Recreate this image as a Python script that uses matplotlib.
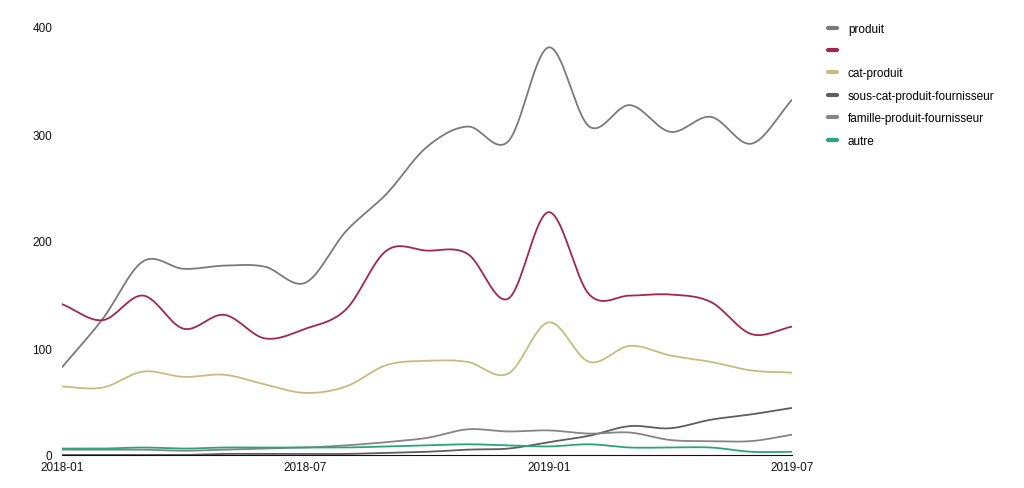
import numpy as np
import matplotlib
matplotlib.use('Agg')
import matplotlib.pyplot as plt
from matplotlib.lines import Line2D

plt.rcParams['font.family'] = ['Liberation Sans', 'DejaVu Sans']

MONTHS = ['2018-01', '2018-02', '2018-03', '2018-04', '2018-05', '2018-06',
          '2018-07', '2018-08', '2018-09', '2018-10', '2018-11', '2018-12',
          '2019-01', '2019-02', '2019-03', '2019-04', '2019-05', '2019-06',
          '2019-07']
TICK_LABELS = ['2018-01', '2018-07', '2019-01', '2019-07']
Y_TICKS = [0, 100, 200, 300, 400]

# series values
produit = [82, 127, 181, 174, 177, 176, 161, 209, 244, 288, 307, 293,
           381, 307, 327, 302, 316, 291, 332]
sans_nom = [141, 126, 149, 118, 131, 109, 118, 136, 191, 191, 188, 146,
            227, 150, 149, 150, 143, 113, 120]
cat_produit = [64, 63, 78, 73, 75, 66, 58, 64, 84, 88, 87, 76,
               124, 87, 102, 93, 87, 79, 77]
serie_4 = [0, 0, 0, 0, 1, 1, 1, 1, 2, 3, 5, 6,
           12, 18, 27, 25, 33, 38, 44]
serie_5 = [5, 5, 5, 4, 5, 6, 7, 9, 12, 16, 24, 22,
           23, 20, 21, 14, 13, 13, 19]
serie_6 = [6, 6, 7, 6, 7, 7, 7, 7, 8, 9, 10, 9,
           8, 10, 7, 7, 7, 3, 3]

SERIES = [
  ('produit', produit, '#7a7a7a'),
  ('', sans_nom, '#a3264c'),
  ('cat-produit', cat_produit, '#c4bd7e'),
  ('sous-cat-produit-fournisseur', serie_4, '#5e5e5e'),
  ('famille-produit-fournisseur', serie_5, '#858585'),
  ('autre', serie_6, '#2aa37f'),
]


def catmull_rom(y, steps=20):
  # smooth curve through the points (like d3 curveCatmullRom)
  y = np.asarray(y, dtype=float)
  p = np.concatenate([[2 * y[0] - y[1]], y, [2 * y[-1] - y[-2]]])
  xs, ys = [], []
  t = np.linspace(0, 1, steps, endpoint=False)
  for i in range(len(y) - 1):
    p0, p1, p2, p3 = p[i], p[i + 1], p[i + 2], p[i + 3]
    seg = 0.5 * ((2 * p1) + (-p0 + p2) * t +
                 (2 * p0 - 5 * p1 + 4 * p2 - p3) * t ** 2 +
                 (-p0 + 3 * p1 - 3 * p2 + p3) * t ** 3)
    xs.extend(i + t)
    ys.extend(seg)
  xs.append(len(y) - 1)
  ys.append(y[-1])
  return np.array(xs), np.array(ys)


fig = plt.figure(figsize=(10.24, 4.89), dpi=100)
ax = fig.add_axes([62 / 1024, 33 / 489, 730 / 1024, 428 / 489])

for label, values, color in SERIES:
  cx, cy = catmull_rom(values)
  ax.plot(cx, cy, color=color, lw=1.3, solid_capstyle='round')

ax.set_xlim(0, len(MONTHS) - 1)
ax.set_ylim(0, 400)
ax.set_xticks([MONTHS.index(m) for m in TICK_LABELS])
ax.set_xticklabels(TICK_LABELS)
ax.set_yticks(Y_TICKS)
ax.tick_params(length=0, labelsize=8.5, colors='#111111')
ax.tick_params(axis='x', pad=4)
ax.tick_params(axis='y', pad=7)
for side in ['top', 'right', 'left']:
  ax.spines[side].set_visible(False)
ax.spines['bottom'].set_color('#111111')
ax.spines['bottom'].set_linewidth(0.8)

handles = [Line2D([0], [0], color=c, lw=3, solid_capstyle='round')
           for _, _, c in SERIES]
labels = [l for l, _, _ in SERIES]
fig.legend(handles, labels, loc='upper left', bbox_to_anchor=(823 / 1024, 1 - 19 / 489),
           frameon=False, fontsize=8.5, handlelength=0.8, handletextpad=0.9,
           labelspacing=0.88, borderaxespad=0)

fig.savefig('out.png', dpi=100)
